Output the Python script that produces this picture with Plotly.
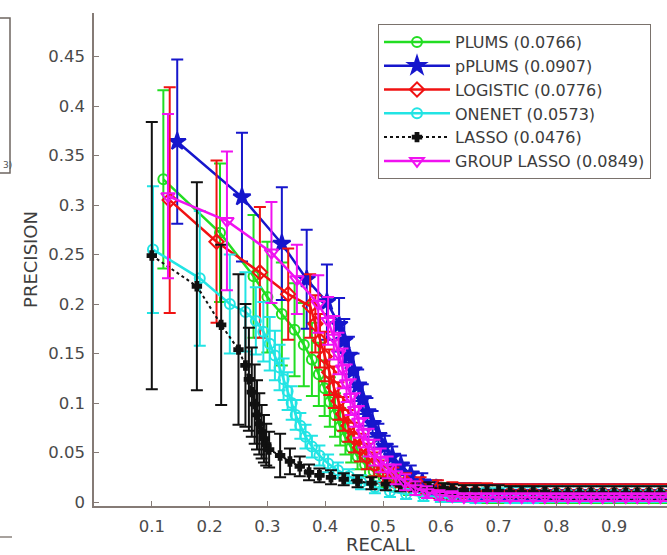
import plotly.graph_objects as go

# ---------------- data ----------------
tail_recall = [0.62, 0.64, 0.66, 0.68, 0.70, 0.72, 0.74, 0.76, 0.78, 0.80,
               0.82, 0.84, 0.86, 0.88, 0.90, 0.92, 0.94, 0.96, 0.98, 1.00]

plums_recall = [0.120, 0.218, 0.276, 0.300, 0.325, 0.347, 0.363, 0.377, 0.389, 0.399, 0.408, 0.417,
                0.426, 0.435, 0.445, 0.456, 0.469, 0.484, 0.501, 0.521, 0.545, 0.572, 0.600]
plums_precision = [0.326, 0.272, 0.228, 0.207, 0.190, 0.174, 0.159, 0.144, 0.129, 0.115, 0.101, 0.088,
                   0.076, 0.065, 0.055, 0.046, 0.038, 0.031, 0.025, 0.020, 0.016, 0.013, 0.011]
plums_err = [0.090, 0.070, 0.062, 0.056, 0.052, 0.047, 0.042, 0.037, 0.032, 0.028, 0.025, 0.022,
             0.019, 0.017, 0.015, 0.013, 0.012, 0.011, 0.010, 0.009, 0.009, 0.008, 0.008]
plums_tail_precision = [0.009, 0.009, 0.009, 0.008, 0.008, 0.008, 0.008, 0.008, 0.008, 0.008,
                        0.008, 0.008, 0.008, 0.008, 0.008, 0.008, 0.008, 0.008, 0.008, 0.008]
plums_tail_err = [0.009, 0.009, 0.009, 0.009, 0.009, 0.009, 0.009, 0.009, 0.009, 0.009,
                  0.009, 0.009, 0.009, 0.009, 0.009, 0.009, 0.009, 0.009, 0.009, 0.009]

pplums_recall = [0.144, 0.256, 0.325, 0.368, 0.403, 0.424, 0.433, 0.441, 0.449, 0.457,
                 0.465, 0.473, 0.482, 0.492, 0.503, 0.516, 0.531, 0.548, 0.568, 0.592]
pplums_precision = [0.364, 0.308, 0.261, 0.225, 0.202, 0.179, 0.163, 0.148, 0.133, 0.118,
                    0.104, 0.091, 0.079, 0.067, 0.056, 0.046, 0.037, 0.028, 0.020, 0.014]
pplums_err = [0.083, 0.065, 0.057, 0.050, 0.038, 0.027, 0.022, 0.019, 0.017, 0.016,
              0.015, 0.014, 0.013, 0.012, 0.011, 0.010, 0.010, 0.009, 0.009, 0.008]
pplums_tail_precision = [0.010, 0.010, 0.010, 0.009, 0.009, 0.009, 0.009, 0.009, 0.009, 0.009,
                         0.009, 0.009, 0.009, 0.009, 0.009, 0.009, 0.009, 0.009, 0.009, 0.009]
pplums_tail_err = [0.009, 0.009, 0.009, 0.009, 0.009, 0.009, 0.009, 0.009, 0.009, 0.009,
                   0.009, 0.009, 0.009, 0.009, 0.009, 0.009, 0.009, 0.009, 0.009, 0.009]

logistic_recall = [0.131, 0.212, 0.287, 0.336, 0.374, 0.383, 0.391, 0.399, 0.407, 0.415, 0.423,
                   0.431, 0.440, 0.450, 0.460, 0.472, 0.485, 0.500, 0.518, 0.540, 0.565, 0.595]
logistic_precision = [0.305, 0.263, 0.232, 0.210, 0.198, 0.180, 0.163, 0.147, 0.131, 0.116, 0.102,
                      0.089, 0.077, 0.065, 0.055, 0.046, 0.038, 0.031, 0.025, 0.020, 0.016, 0.013]
logistic_err = [0.114, 0.082, 0.066, 0.046, 0.032, 0.029, 0.027, 0.025, 0.023, 0.021, 0.019,
                0.017, 0.016, 0.015, 0.014, 0.013, 0.012, 0.011, 0.010, 0.009, 0.009, 0.009]
logistic_tail_precision = [0.011, 0.010, 0.010, 0.010, 0.009, 0.009, 0.009, 0.009, 0.009, 0.009,
                           0.009, 0.009, 0.009, 0.009, 0.009, 0.009, 0.009, 0.009, 0.009, 0.009]
logistic_tail_err = [0.009, 0.009, 0.009, 0.009, 0.009, 0.009, 0.009, 0.009, 0.009, 0.009,
                     0.009, 0.009, 0.009, 0.009, 0.009, 0.009, 0.009, 0.009, 0.009, 0.009]

onenet_recall = [0.102, 0.183, 0.235, 0.262, 0.280, 0.293, 0.304, 0.313, 0.321, 0.328, 0.335, 0.342, 0.349,
                 0.357, 0.366, 0.377, 0.390, 0.405, 0.422, 0.441, 0.462, 0.486, 0.512, 0.540, 0.570, 0.600]
onenet_precision = [0.255, 0.226, 0.200, 0.192, 0.183, 0.172, 0.160, 0.148, 0.136, 0.124, 0.112, 0.100, 0.088,
                    0.077, 0.066, 0.056, 0.047, 0.039, 0.032, 0.026, 0.020, 0.015, 0.011, 0.008, 0.006, 0.005]
onenet_err = [0.064, 0.068, 0.050, 0.040, 0.034, 0.030, 0.027, 0.025, 0.023, 0.021, 0.019, 0.017, 0.015,
              0.013, 0.012, 0.011, 0.010, 0.009, 0.008, 0.007, 0.007, 0.006, 0.006, 0.005, 0.005, 0.005]
onenet_tail_precision = [0.006, 0.006, 0.006, 0.007, 0.007, 0.007, 0.007, 0.007, 0.008, 0.008,
                         0.008, 0.008, 0.008, 0.008, 0.008, 0.008, 0.008, 0.008, 0.008, 0.008]
onenet_tail_err = [0.006, 0.006, 0.007, 0.007, 0.007, 0.008, 0.008, 0.008, 0.008, 0.008,
                   0.008, 0.008, 0.008, 0.008, 0.008, 0.008, 0.008, 0.008, 0.008, 0.008]

lasso_recall = [0.100, 0.178, 0.220, 0.250, 0.262, 0.268, 0.273, 0.278, 0.282, 0.286, 0.290, 0.294, 0.298, 0.303,
                0.322, 0.339, 0.356, 0.372, 0.390, 0.410, 0.432, 0.456, 0.480, 0.505, 0.530, 0.555, 0.580, 0.605]
lasso_precision = [0.249, 0.218, 0.179, 0.154, 0.138, 0.124, 0.111, 0.099, 0.088, 0.079, 0.071, 0.064, 0.058, 0.053,
                   0.047, 0.041, 0.036, 0.030, 0.027, 0.025, 0.023, 0.021, 0.019, 0.018, 0.017, 0.016, 0.015, 0.014]
lasso_err = [0.135, 0.105, 0.081, 0.076, 0.062, 0.052, 0.045, 0.040, 0.035, 0.031, 0.027, 0.024, 0.021, 0.018,
             0.022, 0.013, 0.010, 0.008, 0.007, 0.007, 0.006, 0.006, 0.006, 0.006, 0.006, 0.005, 0.005, 0.005]
lasso_tail_precision = [0.013, 0.012, 0.012, 0.011, 0.011, 0.010, 0.010, 0.010, 0.010, 0.009,
                        0.009, 0.009, 0.009, 0.009, 0.009, 0.009, 0.009, 0.009, 0.009, 0.009]
lasso_tail_err = [0.005, 0.005, 0.005, 0.006, 0.006, 0.006, 0.006, 0.006, 0.006, 0.007,
                  0.007, 0.007, 0.007, 0.007, 0.007, 0.007, 0.007, 0.007, 0.007, 0.007]

glasso_recall = [0.128, 0.230, 0.307, 0.351, 0.388, 0.405, 0.415, 0.423, 0.430, 0.437, 0.444, 0.451,
                 0.458, 0.466, 0.475, 0.485, 0.496, 0.508, 0.522, 0.538, 0.556, 0.576, 0.598]
glasso_precision = [0.309, 0.284, 0.252, 0.225, 0.200, 0.183, 0.166, 0.150, 0.135, 0.120, 0.106, 0.093,
                    0.081, 0.070, 0.060, 0.050, 0.042, 0.035, 0.028, 0.020, 0.014, 0.010, 0.007]
glasso_err = [0.083, 0.070, 0.051, 0.035, 0.029, 0.024, 0.022, 0.021, 0.020, 0.019, 0.018, 0.017,
              0.016, 0.015, 0.014, 0.013, 0.012, 0.011, 0.010, 0.008, 0.007, 0.006, 0.005]
glasso_tail_precision = [0.006, 0.005, 0.005, 0.005, 0.005, 0.005, 0.005, 0.005, 0.005, 0.005,
                         0.005, 0.005, 0.005, 0.005, 0.005, 0.005, 0.005, 0.005, 0.005, 0.005]
glasso_tail_err = [0.005, 0.004, 0.004, 0.004, 0.004, 0.004, 0.004, 0.004, 0.004, 0.004,
                   0.004, 0.004, 0.004, 0.004, 0.004, 0.004, 0.004, 0.004, 0.004, 0.004]

series_names = ["PLUMS (0.0766)", "pPLUMS (0.0907)", "LOGISTIC (0.0776)",
                "ONENET (0.0573)", "LASSO (0.0476)", "GROUP LASSO (0.0849)"]

x_tickvals = [0.1, 0.2, 0.3, 0.4, 0.5, 0.6, 0.7, 0.8, 0.9]
x_ticktext = ["0.1", "0.2", "0.3", "0.4", "0.5", "0.6", "0.7", "0.8", "0.9"]
y_tickvals = [0, 0.05, 0.1, 0.15, 0.2, 0.25, 0.3, 0.35, 0.4, 0.45]
y_ticktext = ["0", "0.05", "0.1", "0.15", "0.2", "0.25", "0.3", "0.35", "0.4", "0.45"]

# ---------------- styles ----------------
styles = [
    dict(color="#22dd22", symbol="circle-open", size=10, dash="solid"),
    dict(color="#1616cc", symbol="star", size=13, dash="solid"),
    dict(color="#f01212", symbol="diamond-open", size=11, dash="solid"),
    dict(color="#22e4e4", symbol="circle-open", size=10, dash="solid"),
    dict(color="#111111", symbol="cross", size=7, dash="dot"),
    dict(color="#f012f0", symbol="triangle-down-open", size=12, dash="solid"),
]

data = [
    (plums_recall + tail_recall, plums_precision + plums_tail_precision, plums_err + plums_tail_err),
    (pplums_recall + tail_recall, pplums_precision + pplums_tail_precision, pplums_err + pplums_tail_err),
    (logistic_recall + tail_recall, logistic_precision + logistic_tail_precision, logistic_err + logistic_tail_err),
    (onenet_recall + tail_recall, onenet_precision + onenet_tail_precision, onenet_err + onenet_tail_err),
    (lasso_recall + tail_recall, lasso_precision + lasso_tail_precision, lasso_err + lasso_tail_err),
    (glasso_recall + tail_recall, glasso_precision + glasso_tail_precision, glasso_err + glasso_tail_err),
]

FONT = "DejaVu Sans"
AXIS_COLOR = "#857b76"
TEXT_COLOR = "#4a4a4a"

fig = go.Figure()
for name, (xs, ys, es), st in zip(series_names, data, styles):
    fig.add_trace(go.Scatter(
        x=xs, y=ys, mode="lines+markers", name=name,
        line=dict(color=st["color"], width=2.5 if st["dash"] == "solid" else 2, dash=st["dash"]),
        marker=dict(symbol=st["symbol"], size=st["size"], color=st["color"],
                    line=dict(color=st["color"], width=2)),
        error_y=dict(type="data", array=es, visible=True, color=st["color"],
                     thickness=2, width=6),
    ))

W, H = 667, 555
ML, MR, MT, MB = 94, 0, 13, 49
pw, ph = W - ML - MR, H - MT - MB


def px_x(p):
    return (p - ML) / pw


def px_y(p):
    return (H - MB - p) / ph


fig.update_layout(
    width=W, height=H, autosize=False,
    margin=dict(l=ML, r=MR, t=MT, b=MB, pad=0, autoexpand=False),
    paper_bgcolor="white", plot_bgcolor="white",
    font=dict(family=FONT, color=TEXT_COLOR, size=16),
    showlegend=True,
    legend=dict(
        x=px_x(378), y=px_y(24), xanchor="left", yanchor="top",
        bgcolor="white", bordercolor="#7a726c", borderwidth=1,
        font=dict(family=FONT, size=16, color="#3c3c3c"),
        itemwidth=66, tracegroupgap=0,
    ),
    xaxis=dict(
        range=[0, (W - ML) / 578.0], tickvals=x_tickvals, ticktext=x_ticktext,
        ticks="inside", ticklen=5, tickwidth=1, tickcolor=AXIS_COLOR,
        showline=True, linecolor=AXIS_COLOR, linewidth=1.5, mirror=False,
        showgrid=False, zeroline=False,
        tickfont=dict(family=FONT, size=16.5, color=TEXT_COLOR),
        ticklabelstandoff=4,
        title=dict(text="RECALL", font=dict(family=FONT, size=18, color="#3e3e3e"), standoff=6),
    ),
    yaxis=dict(
        range=[-0.004, 0.494], tickvals=y_tickvals, ticktext=y_ticktext,
        ticks="inside", ticklen=5, tickwidth=1, tickcolor=AXIS_COLOR,
        showline=True, linecolor=AXIS_COLOR, linewidth=1.5, mirror=False,
        showgrid=False, zeroline=False,
        tickfont=dict(family=FONT, size=16.5, color=TEXT_COLOR),
        ticklabelstandoff=4,
        title=dict(text="PRECISION", font=dict(family=FONT, size=18, color="#3e3e3e"), standoff=6),
    ),
    shapes=[
        dict(type="rect", xref="paper", yref="paper",
             x0=px_x(-6), x1=px_x(10), y0=px_y(173), y1=px_y(18),
             line=dict(color="#6e6660", width=1.5), fillcolor="rgba(0,0,0,0)"),
        dict(type="line", xref="paper", yref="paper",
             x0=px_x(0), x1=px_x(12), y0=px_y(537), y1=px_y(537),
             line=dict(color="#8a827c", width=1.5)),
    ],
    annotations=[
        dict(text="3)", xref="paper", yref="paper", x=px_x(0.5), y=px_y(165),
             xanchor="left", yanchor="middle", showarrow=False,
             font=dict(family=FONT, size=9, color="#555555")),
    ],
)

fig.write_html("out.html")
